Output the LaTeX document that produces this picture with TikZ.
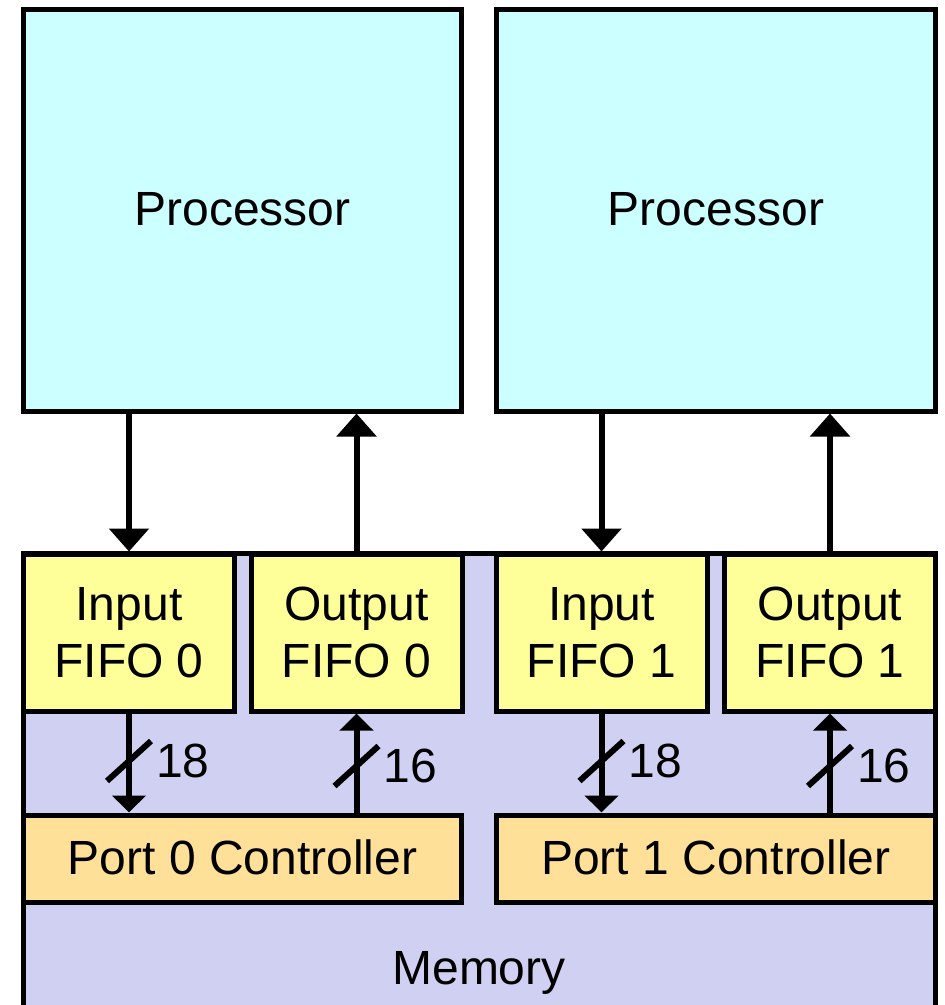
\documentclass[tikz,border=0pt]{standalone}
\usepackage{fontspec}
\setmainfont{Liberation Sans}
\usetikzlibrary{arrows.meta}
\definecolor{procfill}{RGB}{204,255,255}
\definecolor{fifofill}{RGB}{255,255,153}
\definecolor{portfill}{RGB}{255,224,153}
\definecolor{memfill}{RGB}{208,208,242}
\begin{document}
\begin{tikzpicture}[x=1pt,y=-1pt,
  box/.style={draw=black, line width=5pt, outer sep=2.5pt, inner sep=0pt,
              font=\fontsize{48}{57}\selectfont, align=center},
  oneline/.style={text height=41pt, text depth=10pt},
  proc/.style={box, oneline, fill=procfill, minimum width=438pt, minimum height=401.5pt},
  fifo/.style={box, fill=fifofill, minimum width=211pt, minimum height=157pt},
  port/.style={box, oneline, fill=portfill, minimum width=438pt, minimum height=87pt},
  membox/.style={box, fill=memfill},
  bigarrow/.style={line width=6pt, -{Triangle[width=39pt,length=23pt]}},
  busarrow/.style={line width=6pt, -{Triangle[width=33pt,length=17pt]}},
  busslash/.style={line width=6pt},
  buslabel/.style={font=\fontsize{48}{57}\selectfont, anchor=west, inner sep=0pt},
  txt/.style={font=\fontsize{48}{57}\selectfont, inner sep=0pt}
]
\useasboundingbox (0,0) rectangle (945,1005);

% memory block underneath everything
\node[membox, minimum width=912pt, minimum height=470pt] (memory) at (479.5,788) {};
\node[txt] (memlabel) at (479,973) {Memory};

% processors
\node[proc] (p0) at (242.5,210.25) {Processor};
\node[proc, minimum width=439pt] (p1) at (716,210.25) {Processor};

% FIFOs
\node[fifo] (in0)  at (129,632.5)   {Input\\FIFO 0};
\node[fifo] (out0) at (356.5,632.5) {Output\\FIFO 0};
\node[fifo] (in1)  at (601.5,632.5) {Input\\FIFO 1};
\node[fifo] (out1) at (830,632.5)   {Output\\FIFO 1};

% port controllers
\node[port] (pc0) at (242.5,858.5) {Port 0 Controller};
\node[port, minimum width=439pt] (pc1) at (716,858.5) {Port 1 Controller};

% processor <-> FIFO links
\draw[bigarrow] (p0.south -| in0.north) -- (in0.north);
\draw[bigarrow] (out0.north) -- (p0.south -| out0.north);
\draw[bigarrow] (p1.south -| in1.north) -- (in1.north);
\draw[bigarrow] (out1.north) -- (p1.south -| out1.north);

% FIFO <-> controller buses
\draw[busarrow] (in0.south) -- coordinate (m0) (in0.south |- pc0.north);
\draw[busarrow] (pc0.north -| out0.south) -- coordinate (m1) (out0.south);
\draw[busarrow] (in1.south) -- coordinate (m2) (in1.south |- pc1.north);
\draw[busarrow] (pc1.north -| out1.south) -- coordinate (m3) (out1.south);

% bus width marks
\foreach \m/\w/\dy in {m0/18/-2, m1/16/3, m2/18/-2, m3/16/3} {
  \draw[busslash] ([shift={(-22,20+\dy)}]\m) -- ([shift={(22,-20+\dy)}]\m);
  \node[buslabel] (w\m) at ([shift={(27,\dy)}]\m) {\w};
}
\end{tikzpicture}
\end{document}
